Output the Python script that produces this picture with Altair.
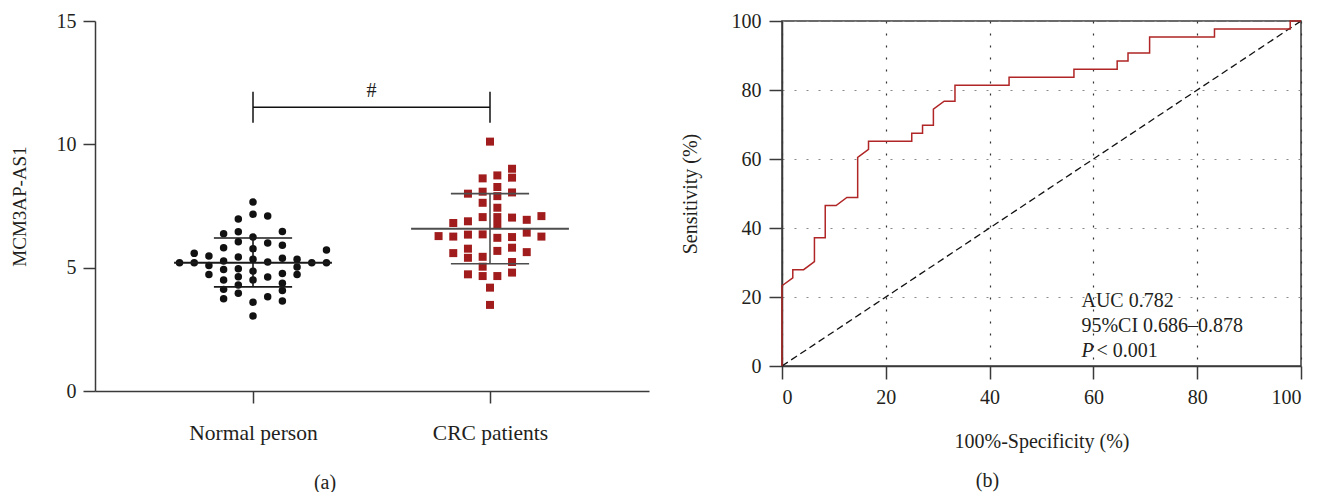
import altair as alt
import pandas as pd

# ---------------- panel (a): scatter of MCM3AP-AS1 ----------------
group_names = ["Normal person", "CRC patients"]

# swarm column index and value of each point
normal_col = [-5,
              -4, -4,
              -3, -3, -3,
              -2, -2, -2, -2, -2, -2, -2,
              -1, -1, -1, -1, -1, -1, -1, -1,
              0, 0, 0, 0, 0, 0, 0, 0, 0,
              1, 1, 1, 1, 1,
              2, 2, 2, 2, 2, 2, 2,
              3, 3, 3,
              4,
              5, 5]
normal_val = [5.20,
              5.58, 5.20,
              5.47, 5.09, 4.72,
              6.38, 5.81, 5.27, 4.93, 4.50, 4.12, 3.74,
              6.97, 6.46, 6.05, 5.43, 4.96, 4.63, 4.30, 3.96,
              7.66, 7.17, 6.24, 5.77, 5.34, 4.86, 4.50, 3.60, 3.04,
              7.09, 6.00, 5.23, 4.62, 3.82,
              6.47, 5.91, 5.38, 4.76, 4.37, 4.07, 3.65,
              5.34, 5.03, 4.72,
              5.20,
              5.72, 5.20]

crc_col = [-3.5,
           -2.5, -2.5, -2.5,
           -1.5, -1.5, -1.5, -1.5, -1.5, -1.5,
           -0.5, -0.5, -0.5, -0.5, -0.5, -0.5, -0.5, -0.5,
           0, 0, 0,
           0.5, 0.5, 0.5, 0.5, 0.5, 0.5, 0.5, 0.5, 0.5,
           1.5, 1.5, 1.5, 1.5, 1.5, 1.5, 1.5, 1.5,
           2.5, 2.5, 2.5,
           3.5, 3.5]
crc_val = [6.28,
           6.81, 6.26, 5.59,
           8.00, 6.88, 6.34, 5.77, 5.40, 4.73,
           8.62, 8.08, 7.63, 7.05, 6.35, 5.44, 5.04, 4.66,
           10.11, 4.19, 3.49,
           8.74, 8.27, 7.90, 7.43, 7.05, 6.73, 6.21, 5.68, 4.66,
           9.01, 8.65, 8.05, 7.03, 6.24, 5.81, 5.23, 4.80,
           6.94, 6.42, 5.63,
           7.09, 6.26]

group_mean = [5.20, 6.58]
group_sd_hi = [6.20, 8.00]
group_sd_lo = [4.22, 5.16]

bracket_y = 11.5
bracket_top = 12.13
bracket_bottom = 10.88
bracket_label = "#"
bracket_label_y = 12.17

# ---------------- panel (b): ROC curve ----------------
roc_fpr = [0, 0, 2.08, 2.08, 4.17, 6.25, 6.25, 8.33, 8.33, 10.42,
           12.5, 14.58, 14.58, 16.67, 16.67, 25.0, 25.0, 27.08, 27.08, 29.17,
           29.17, 31.25, 33.33, 33.33, 43.75, 43.75, 56.25, 56.25, 64.58, 64.58,
           66.67, 66.67, 70.83, 70.83, 83.33, 83.33, 97.92, 97.92, 100]
roc_tpr = [0, 23.26, 25.58, 27.91, 27.91, 30.23, 37.21, 37.21, 46.51, 46.51,
           48.84, 48.84, 60.47, 62.79, 65.12, 65.12, 67.44, 67.44, 69.77, 69.77,
           74.42, 76.74, 76.74, 81.40, 81.40, 83.72, 83.72, 86.05, 86.05, 88.37,
           88.37, 90.70, 90.70, 95.35, 95.35, 97.67, 97.67, 100, 100]
ref_x = [0, 100]
ref_y = [0, 100]
roc_ticks = [0, 20, 40, 60, 80, 100]

annot_text = ["AUC 0.782", "95%CI 0.686\u20130.878", "P", "< 0.001"]
annot_x = [57.7, 57.7, 57.7, 60.6]
annot_y = [18.8, 11.6, 4.4, 4.4]
annot_style = ["normal", "normal", "italic", "normal"]

# ---------------- styling constants ----------------
FONT = "Liberation Serif"
TXT = "#231f20"
AX = "#3a3a3a"
RED = "#a11d1d"
COL_STEP = 0.062
MEAN_HALF = 0.333
SD_HALF = 0.165

# ---------------- build panel (a) ----------------
pts = pd.DataFrame({
    "group": [0] * len(normal_val) + [1] * len(crc_val),
    "col": normal_col + crc_col,
    "val": normal_val + crc_val,
})
pts["x"] = pts["group"] + pts["col"] * COL_STEP

stats = pd.DataFrame({
    "group": [0, 1],
    "mean": group_mean,
    "hi": group_sd_hi,
    "lo": group_sd_lo,
})
stats["m1"] = stats["group"] - MEAN_HALF
stats["m2"] = stats["group"] + MEAN_HALF
stats["s1"] = stats["group"] - SD_HALF
stats["s2"] = stats["group"] + SD_HALF

label_expr = "datum.value == 0 ? '%s' : '%s'" % (group_names[0], group_names[1])
xa_scale = alt.Scale(domain=[-0.6667, 1.6709], nice=False, zero=False)
ya_scale = alt.Scale(domain=[0, 15], nice=False)
xa_axis = alt.Axis(values=[0, 1], labelExpr=label_expr, title=None, grid=False,
                   tickSize=12, labelPadding=19, labelFontSize=21.5)
ya_axis = alt.Axis(values=[0, 5, 10, 15], title="MCM3AP-AS1", grid=False,
                   tickSize=12, labelPadding=7, titlePadding=27, titleFontSize=19)

def XA(field):
    return alt.X(field, type="quantitative", scale=xa_scale, axis=xa_axis)

def YA(field):
    return alt.Y(field, type="quantitative", scale=ya_scale, axis=ya_axis)

base_pts = alt.Chart(pts)
normal_layer = base_pts.transform_filter("datum.group == 0").mark_point(
    shape="circle", filled=True, size=56, color="#111111", opacity=1
).encode(x=XA("x"), y=YA("val"))
crc_layer = base_pts.transform_filter("datum.group == 1").mark_square(
    size=64, color=RED, opacity=1
).encode(x=XA("x"), y=YA("val"))

sbase = alt.Chart(stats)
mean_rule = sbase.mark_rule(strokeWidth=2).encode(
    x=XA("m1"), x2="m2", y=YA("mean"),
    color=alt.Color("group:N", scale=alt.Scale(domain=[0, 1], range=["#1a1a1a", "#4d4d4d"]), legend=None))
sd_hi_rule = sbase.mark_rule(strokeWidth=1.6).encode(
    x=XA("s1"), x2="s2", y=YA("hi"),
    color=alt.Color("group:N", scale=alt.Scale(domain=[0, 1], range=["#1a1a1a", "#b45555"]), legend=None))
sd_lo_rule = sbase.mark_rule(strokeWidth=1.6).encode(
    x=XA("s1"), x2="s2", y=YA("lo"),
    color=alt.Color("group:N", scale=alt.Scale(domain=[0, 1], range=["#1a1a1a", "#b45555"]), legend=None))
sd_vert = sbase.mark_rule(strokeWidth=1.6).encode(
    x=XA("group"), y=YA("lo"), y2="hi",
    color=alt.Color("group:N", scale=alt.Scale(domain=[0, 1], range=["#1a1a1a", "#a52a2a"]), legend=None))

br = pd.DataFrame({"a": [0], "b": [1], "y": [bracket_y], "top": [bracket_top],
                   "bot": [bracket_bottom], "mid": [0.5], "ly": [bracket_label_y],
                   "label": [bracket_label]})
bbase = alt.Chart(br)
br_h = bbase.mark_rule(color="#111111", strokeWidth=1.5).encode(x=XA("a"), x2="b", y=YA("y"))
br_l = bbase.mark_rule(color="#111111", strokeWidth=1.5).encode(x=XA("a"), y=YA("bot"), y2="top")
br_r = bbase.mark_rule(color="#111111", strokeWidth=1.5).encode(x=XA("b"), y=YA("bot"), y2="top")
br_t = bbase.mark_text(font=FONT, fontSize=20, color=TXT, baseline="middle").encode(
    x=XA("mid"), y=YA("ly"), text="label:N")

panel_a = alt.layer(
    crc_layer, normal_layer, mean_rule, sd_hi_rule, sd_lo_rule, sd_vert,
    br_h, br_l, br_r, br_t
).properties(
    width=554, height=370,
    view=alt.ViewBackground(stroke=None),
    title=alt.TitleParams("(a)", orient="bottom", anchor="middle", frame="group",
                          dx=-47, offset=29),
)

# ---------------- build panel (b) ----------------
roc = pd.DataFrame({"fpr": roc_fpr, "tpr": roc_tpr, "i": list(range(len(roc_fpr)))})
ref = pd.DataFrame({"fpr": ref_x, "tpr": ref_y, "i": [0, 1]})
ann = pd.DataFrame({"fpr": annot_x, "tpr": annot_y, "text": annot_text, "st": annot_style})

xb_scale = alt.Scale(domain=[0, 100], nice=False)
yb_scale = alt.Scale(domain=[0, 100], nice=False)
xb_axis = alt.Axis(values=roc_ticks, title="100%-Specificity (%)", grid=True,
                   gridColor="#333333", gridDash=[2, 10], gridWidth=1.2,
                   tickSize=13, labelPadding=8, titlePadding=24)
yb_axis = alt.Axis(values=roc_ticks, title="Sensitivity (%)", grid=True,
                   gridColor="#8a8a8a", gridDash=[2, 10], gridWidth=1.2,
                   tickSize=13, labelPadding=8, titlePadding=31)

def XB(field):
    return alt.X(field, type="quantitative", scale=xb_scale, axis=xb_axis)

def YB(field):
    return alt.Y(field, type="quantitative", scale=yb_scale, axis=yb_axis)

ref_line = alt.Chart(ref).mark_line(color="#111111", strokeWidth=1.3, strokeDash=[7, 4]).encode(
    x=XB("fpr"), y=YB("tpr"), order="i:Q")
roc_line = alt.Chart(roc).mark_line(color="#b02525", strokeWidth=1.5, interpolate="linear").encode(
    x=XB("fpr"), y=YB("tpr"), order="i:Q")
ann_normal = alt.Chart(ann).transform_filter("datum.st == 'normal'").mark_text(
    font=FONT, fontSize=20, color=TXT, align="left", baseline="middle").encode(
    x=XB("fpr"), y=YB("tpr"), text="text:N")
ann_italic = alt.Chart(ann).transform_filter("datum.st == 'italic'").mark_text(
    font=FONT, fontSize=20, color=TXT, align="left", baseline="middle", fontStyle="italic").encode(
    x=XB("fpr"), y=YB("tpr"), text="text:N")

panel_b = alt.layer(ref_line, roc_line, ann_normal, ann_italic).properties(
    width=519, height=345,
    view=alt.ViewBackground(stroke="#3a3a3a", strokeWidth=1.5),
    title=alt.TitleParams("(b)", orient="bottom", anchor="middle", frame="group",
                          dx=-54, offset=20),
)

chart = alt.hconcat(panel_a, panel_b, spacing=30).properties(
    padding={"left": 10, "top": 10, "right": 5, "bottom": 5},
).configure_axis(
    labelFont=FONT, titleFont=FONT, labelFontSize=20, titleFontSize=20,
    labelColor=TXT, titleColor=TXT, titleFontWeight="normal",
    domainColor=AX, tickColor=AX, domainWidth=1.5, tickWidth=1.5,
).configure_title(
    font=FONT, fontSize=20, fontWeight="normal", color=TXT,
).configure_view(stroke=None)

chart.save("out.html", embed_options={"renderer": "svg", "actions": False})
